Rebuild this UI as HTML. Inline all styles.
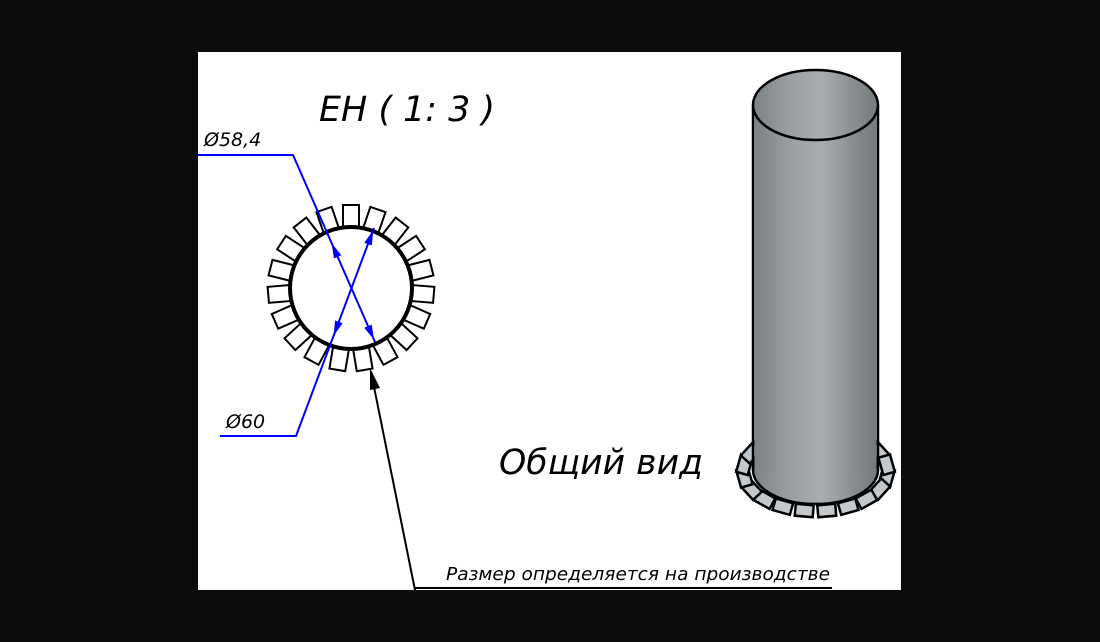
<!DOCTYPE html>
<html><head><meta charset="utf-8"><style>
html,body{margin:0;padding:0;background:#0c0c0c;width:1100px;height:642px;overflow:hidden}
svg{display:block}
text{font-family:"DejaVu Sans","Liberation Sans",sans-serif;font-style:italic}
</style></head><body>
<svg id="s" width="1100" height="642" viewBox="0 0 1100 642" xmlns="http://www.w3.org/2000/svg">
<defs>
<linearGradient id="g" x1="0" x2="1" y1="0" y2="0">
<stop offset="0" stop-color="#7d8285"/><stop offset="0.3" stop-color="#9a9fa2"/><stop offset="0.55" stop-color="#a9aeb0"/><stop offset="0.8" stop-color="#8a8f92"/><stop offset="1" stop-color="#74797c"/>
</linearGradient>
</defs>
<rect x="198" y="52" width="703" height="538" fill="#fff"/>
<g id="teeth1"></g>
<circle cx="351" cy="288" r="61" fill="#fff" stroke="#000" stroke-width="4"/>
<g id="teeth2"></g>
<ellipse cx="815.5" cy="470" rx="62.5" ry="34" fill="url(#g)" stroke="#000" stroke-width="2.5"/>
<rect x="754.5" y="105" width="122" height="366" fill="url(#g)"/>
<line x1="753" y1="105" x2="753" y2="470" stroke="#000" stroke-width="2.5"/>
<line x1="878" y1="105" x2="878" y2="470" stroke="#000" stroke-width="2.5"/>
<ellipse cx="815.5" cy="105" rx="62.5" ry="35" fill="url(#g)" stroke="#000" stroke-width="2.5"/>
<g stroke="#0000ff" stroke-width="2" fill="none">
<polyline points="198,155 293,155 375,342"/>
<polyline points="220,436 296,436 374,228"/>
</g>
<g fill="#0000ff">
<polygon points="331.6,243 341.3,255.2 333.9,258.4"/>
<polygon points="374.1,340 371.7,324.6 364.3,327.8"/>
<polygon points="373.3,230 371.8,245.5 364.3,242.7"/>
<polygon points="333.5,336 342.6,323.3 335.1,320.5"/>
</g>
<line x1="371" y1="372" x2="415" y2="590" stroke="#000" stroke-width="2"/>
<polygon points="370,368 380,388 370,390" fill="#000"/>
<line x1="415" y1="588" x2="832" y2="588" stroke="#000" stroke-width="2"/>
<text x="319" y="121" font-size="35" fill="#000" textLength="176" lengthAdjust="spacingAndGlyphs">EH ( 1: 3 )</text>
<text x="204" y="146" font-size="19" fill="#000">Ø58,4</text>
<text x="226" y="428" font-size="19" fill="#000">Ø60</text>
<text x="499" y="474" font-size="35" fill="#000" textLength="204" lengthAdjust="spacingAndGlyphs">Общий вид</text>
<text x="446" y="580" font-size="17.5" fill="#000" textLength="384" lengthAdjust="spacingAndGlyphs">Размер определяется на производстве</text>
</svg>
<script>
var ns="http://www.w3.org/2000/svg";
var t1=document.getElementById("teeth1"),t2=document.getElementById("teeth2");
var n=19;
for(var i=0;i<n;i++){
 var a=-90+i*360/n;
 var r=document.createElementNS(ns,"rect");
 r.setAttribute("x",-8);r.setAttribute("y",-83);r.setAttribute("width",16);r.setAttribute("height",25);
 r.setAttribute("fill","#fff");r.setAttribute("stroke","#000");r.setAttribute("stroke-width","2");
 r.setAttribute("transform","translate(351 288) rotate("+(a+90)+")");
 t1.appendChild(r);
}
for(var i=0;i<20;i++){
 var a=(i*18+9)*Math.PI/180;
 var cx=815.5+Math.cos(a)*72, cy=471+Math.sin(a)*40;
 var p=document.createElementNS(ns,"rect");
 p.setAttribute("x",-9);p.setAttribute("y",-6);p.setAttribute("width",18);p.setAttribute("height",12);
 p.setAttribute("fill","#c3c8cc");p.setAttribute("stroke","#000");p.setAttribute("stroke-width","2.5");
 var ang=Math.atan2(Math.cos(a)*40,-Math.sin(a)*72)*180/Math.PI;
 p.setAttribute("transform","translate("+cx+" "+cy+") rotate("+(ang)+")");
 t2.appendChild(p);
}
</script>
</body></html>
